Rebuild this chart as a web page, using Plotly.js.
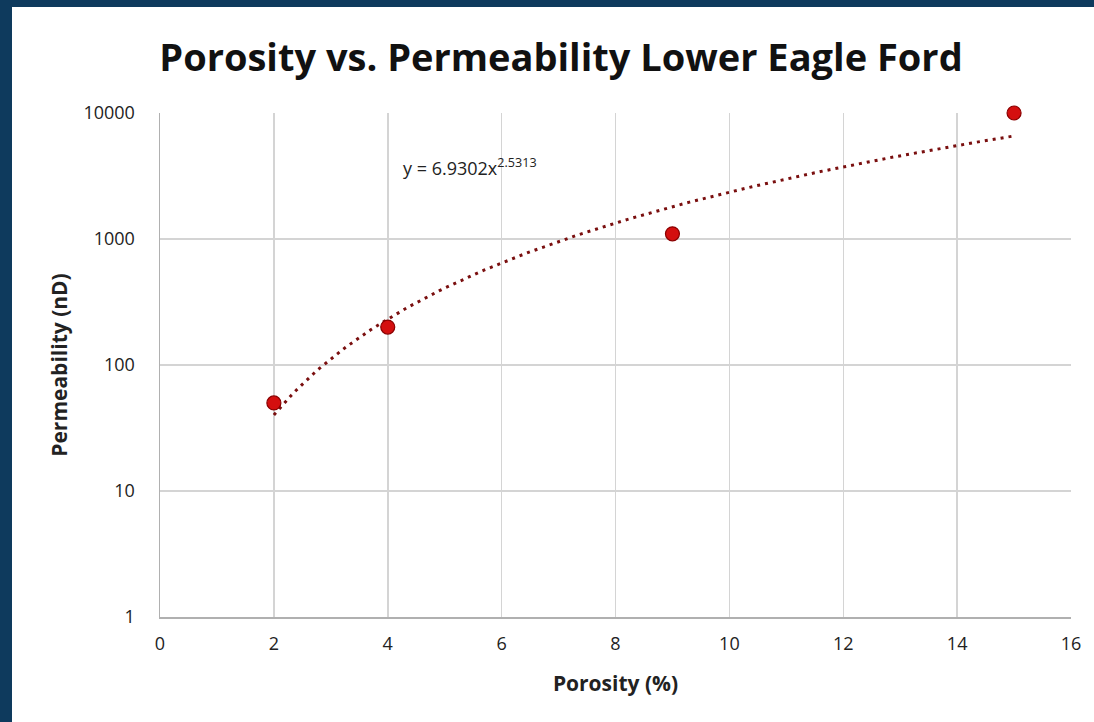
<!DOCTYPE html>
<html><head><meta charset="utf-8">
<script src="https://cdn.plot.ly/plotly-3.0.1.min.js"></script>
<style>
html,body{margin:0;padding:0;background:#0e3a5d;width:1094px;height:722px;overflow:hidden;}
#chart{position:absolute;left:12px;top:7px;width:1082px;height:715px;background:#fff;}
</style></head><body>
<div id="chart"></div>
<script>
const porosity = [2, 4, 9, 15];
const permeability = [50, 200, 1100, 10000];
const trendCoef = 6.9302;
const trendExp = 2.5313;
const trendRange = [2, 15];
const xTicks = [0, 2, 4, 6, 8, 10, 12, 14, 16];
const yTicks = [1, 10, 100, 1000, 10000];
const yTickLabels = ['1', '10', '100', '1000', '10000'];

const tx = [], ty = [];
for (let i = 0; i <= 130; i++) {
  const x = trendRange[0] + (trendRange[1] - trendRange[0]) * i / 130;
  tx.push(x); ty.push(trendCoef * Math.pow(x, trendExp));
}

const font = "Open Sans, Liberation Sans, sans-serif";
const data = [
  {x: tx, y: ty, mode: 'lines', type: 'scatter', hoverinfo: 'skip',
   line: {color: '#7a0f0f', width: 3, dash: '3px,5px'}},
  {x: porosity, y: permeability, mode: 'markers', type: 'scatter', cliponaxis: false,
   marker: {size: 14, color: '#d40f0f', line: {color: '#8a0000', width: 1.2}}}
];
const layout = {
  width: 1082, height: 715,
  margin: {l: 148, r: 23, t: 106, b: 105},
  paper_bgcolor: '#ffffff', plot_bgcolor: '#ffffff',
  showlegend: false,
  font: {family: font, color: '#222', size: 17},
  title: {text: '<b>Porosity vs. Permeability Lower Eagle Ford</b>', x: (561 - 12) / 1082, xanchor: 'center', y: 1 - (58 - 7) / 715, yanchor: 'middle',
          font: {family: font, size: 38, color: '#111'}},
  xaxis: {range: [0, 16], tickvals: xTicks, showgrid: true, gridcolor: '#d4d4d4', gridwidth: 1.5,
          zeroline: false, showline: true, linecolor: '#b0b0b0', linewidth: 1.5, ticks: '', ticklen: 0,
          ticklabelstandoff: 10,
          tickfont: {size: 18, color: '#222'},
          title: {text: '<b>Porosity (%)</b>', font: {size: 21, color: '#222'}, standoff: 22}},
  yaxis: {type: 'log', range: [0, 4], tickvals: yTicks, ticktext: yTickLabels, showgrid: true, gridcolor: '#d4d4d4', gridwidth: 1.5,
          zeroline: false, showline: true, linecolor: '#b0b0b0', linewidth: 1.5, ticks: '', ticklen: 0,
          ticklabelstandoff: 20,
          tickfont: {size: 18, color: '#222'},
          title: {text: '<b>Permeability (nD)</b>', font: {size: 21, color: '#222'}, standoff: 10}},
  annotations: [{xref: 'paper', yref: 'paper', x: (401 - 160) / 911, y: (617 - 167) / 504, xanchor: 'left', yanchor: 'middle',
                 text: 'y = 6.9302x<sup>2.5313</sup>', showarrow: false, font: {size: 18, color: '#222'}}]
};
Plotly.newPlot('chart', data, layout, {displayModeBar: false, staticPlot: true});
</script></body></html>
